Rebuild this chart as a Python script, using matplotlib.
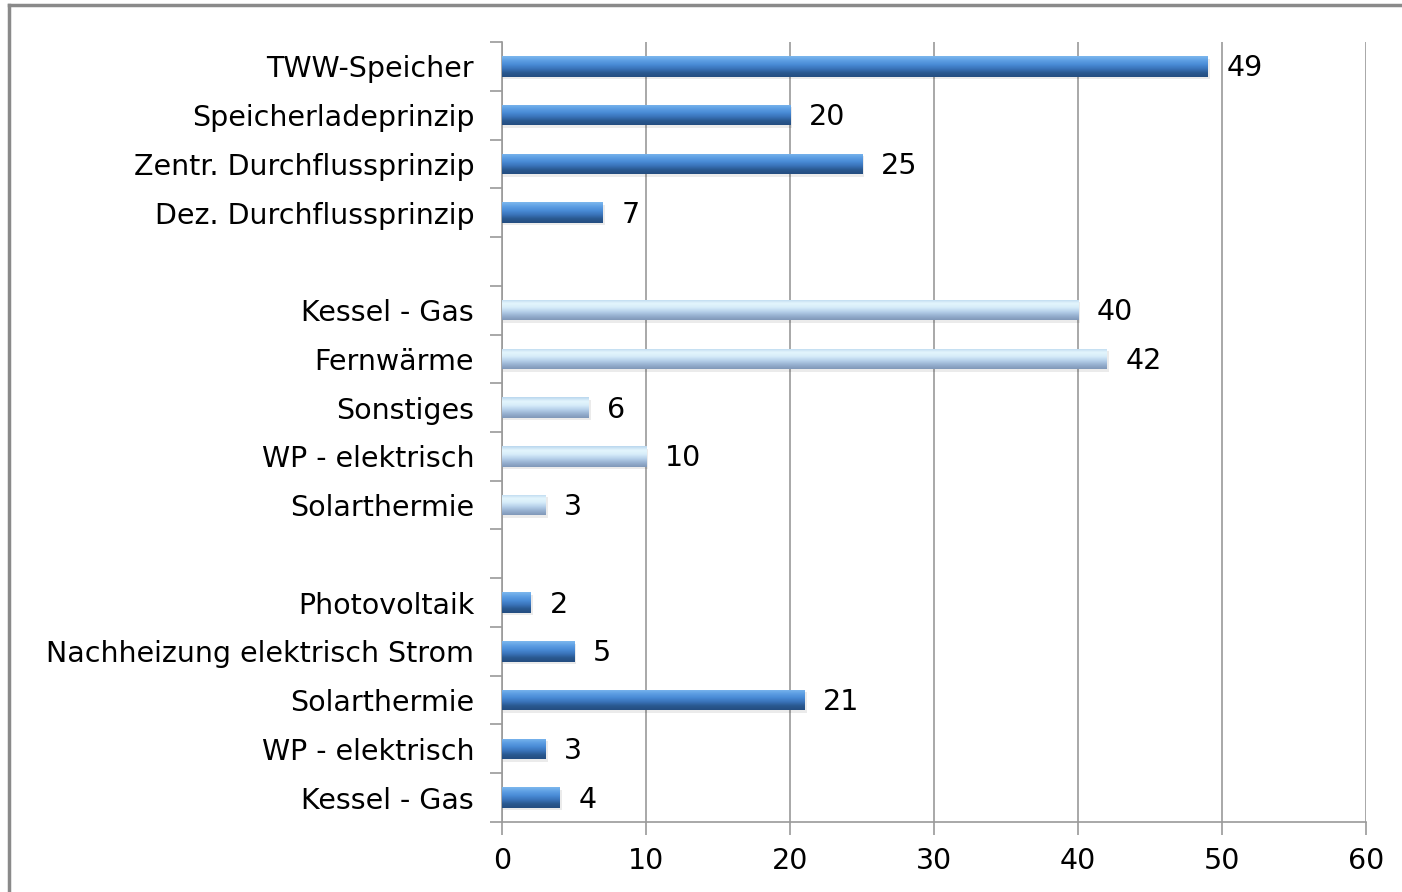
import numpy as np
import matplotlib.pyplot as plt
from matplotlib.colors import LinearSegmentedColormap
from matplotlib.lines import Line2D

# data, top to bottom (None = empty slot between groups)
labels = ['TWW-Speicher', 'Speicherladeprinzip', 'Zentr. Durchflussprinzip',
          'Dez. Durchflussprinzip', None,
          'Kessel - Gas', 'Fernwärme', 'Sonstiges', 'WP - elektrisch', 'Solarthermie', None,
          'Photovoltaik', 'Nachheizung elektrisch Strom', 'Solarthermie',
          'WP - elektrisch', 'Kessel - Gas']
values = [49, 20, 25, 7, None,
          40, 42, 6, 10, 3, None,
          2, 5, 21, 3, 4]
groups = ['dark', 'dark', 'dark', 'dark', None,
          'light', 'light', 'light', 'light', 'light', None,
          'dark', 'dark', 'dark', 'dark', 'dark']

# gradients, top edge -> bottom edge
cmaps = {
    'dark': LinearSegmentedColormap.from_list('d', ['#7db8ee', '#5e9fe4', '#4a8cd6', '#3a74bb', '#2a5990', '#244d80']),
    'light': LinearSegmentedColormap.from_list('l', ['#b9d6ee', '#e4f6fd', '#d6ecf9', '#b6d0ea', '#97b1d0', '#8098b8']),
}

fs = 20.5
plt.rcParams['font.family'] = ['DejaVu Sans']
fig = plt.figure(figsize=(14.02, 8.92), dpi=100)
ax = fig.add_axes([0.358, 0.0785, 0.6163, 0.8744])

n = len(labels)
ypos = np.arange(n)
bh = 0.42
grad = np.linspace(0, 1, 64).reshape(-1, 1)

for y, v, g in zip(ypos, values, groups):
    if v is None:
        continue
    # soft shadow
    ax.barh(y + 0.05, v + 0.12, height=bh, left=0.05, color='#000000', alpha=0.08,
            linewidth=0, zorder=2)
    bar = ax.barh(y, v, height=bh, color='none', linewidth=0, zorder=3)[0]
    im = ax.imshow(grad, cmap=cmaps[g], aspect='auto', origin='upper',
                   extent=[0, v, y + bh / 2, y - bh / 2], zorder=3, interpolation='bicubic')
    im.set_clip_path(bar)
    ax.text(v + 1.3, y + 0.04, str(v), va='center', ha='left', fontsize=fs, color='#000000')

ax.set_xlim(0, 60)
ax.set_ylim(n - 0.5, -0.5)
ax.set_aspect('auto')
ax.set_xticks(np.arange(0, 61, 10))
ax.tick_params(axis='x', length=9, width=1.2, color='#9a9a9a', labelsize=fs, pad=9)
ax.set_yticks([y for y, l in zip(ypos, labels) if l is not None])
ax.set_yticklabels([l for l in labels if l is not None], fontsize=fs)
ax.set_yticks(np.arange(-0.5, n, 1.0), minor=True)
ax.tick_params(axis='y', which='major', length=0, pad=20)
ax.tick_params(axis='y', which='minor', length=9, width=1.2, color='#9a9a9a')
ax.xaxis.grid(True, color='#9a9a9a', linewidth=1.2, zorder=0)
ax.set_axisbelow(True)
for s in ['top', 'right']:
    ax.spines[s].set_visible(False)
for s in ['left', 'bottom']:
    ax.spines[s].set_color('#9a9a9a')
    ax.spines[s].set_linewidth(1.2)

# outer chart border (top and left edges visible)
fig.add_artist(Line2D([0.0064, 0.0064], [0, 0.9944], transform=fig.transFigure,
                      color='#8a8a8a', linewidth=2.5))
fig.add_artist(Line2D([0.0064, 1], [0.9944, 0.9944], transform=fig.transFigure,
                      color='#8a8a8a', linewidth=2.5))

fig.savefig('out.png', dpi=100)
